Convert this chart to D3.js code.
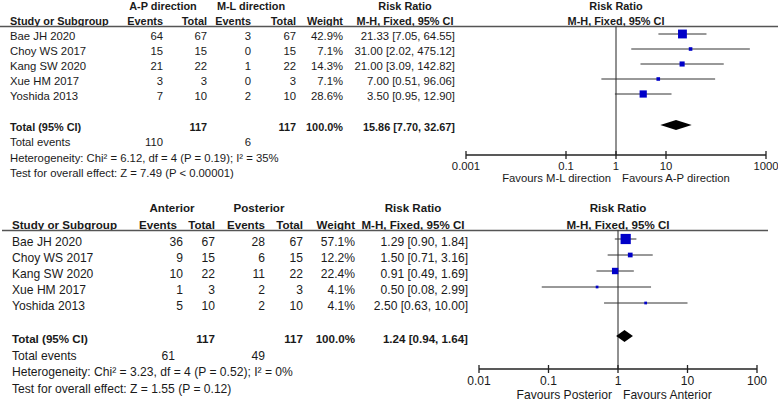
<!DOCTYPE html>
<html><head><meta charset="utf-8">
<script src="https://cdn.jsdelivr.net/npm/d3@7"></script>
<style>body{margin:0;background:#fff}svg{display:block}text{font-family:"Liberation Sans",Arial,sans-serif;fill:#1a1a1a}</style>
</head><body>
<script>
// ---------- data ----------
const studies = ["Bae JH 2020","Choy WS 2017","Kang SW 2020","Xue HM 2017","Yoshida 2013"];

// Panel 1: A-P direction vs M-L direction
const apEvents = [64,15,21,3,7];
const apTotal  = [67,15,22,3,10];
const mlEvents = [3,0,1,0,2];
const mlTotal  = [67,15,22,3,10];
const weight1  = [42.9,7.1,14.3,7.1,28.6];
const rr1      = [21.33,31.00,21.00,7.00,3.50];
const lo1      = [7.05,2.02,3.09,0.51,0.95];
const hi1      = [64.55,475.12,142.82,96.06,12.90];
const total1   = {n1:117, n2:117, w:"100.0%", rr:15.86, lo:7.70, hi:32.67, e1:110, e2:6};
const het1     = "Heterogeneity: Chi\u00B2 = 6.12, df = 4 (P = 0.19); I\u00B2 = 35%";
const test1    = "Test for overall effect: Z = 7.49 (P < 0.00001)";
const ticks1   = [0.001,0.1,1,10,1000];
const groups1  = ["A-P direction","M-L direction"];
const favours1 = ["Favours M-L direction","Favours A-P direction"];

// Panel 2: Anterior vs Posterior
const antEvents  = [36,9,10,1,5];
const antTotal   = [67,15,22,3,10];
const postEvents = [28,6,11,2,2];
const postTotal  = [67,15,22,3,10];
const weight2    = [57.1,12.2,22.4,4.1,4.1];
const rr2        = [1.29,1.50,0.91,0.50,2.50];
const lo2        = [0.90,0.71,0.49,0.08,0.63];
const hi2        = [1.84,3.16,1.69,2.99,10.00];
const total2     = {n1:117, n2:117, w:"100.0%", rr:1.24, lo:0.94, hi:1.64, e1:61, e2:49};
const het2       = "Heterogeneity: Chi\u00B2 = 3.23, df = 4 (P = 0.52); I\u00B2 = 0%";
const test2      = "Test for overall effect: Z = 1.55 (P = 0.12)";
const ticks2     = [0.01,0.1,1,10,100];
const groups2    = ["Anterior","Posterior"];
const favours2   = ["Favours Posterior","Favours Anterior"];

// ---------- drawing ----------
const svg = d3.select("body").append("svg").attr("width",778).attr("height",402);
const f2 = v => v.toFixed(2);

function panel(d, p) {
  const g = svg.append("g");
  const txt = (x, y, s, anchor, bold) => g.append("text")
    .attr("x", x).attr("y", y).attr("text-anchor", anchor || "start")
    .attr("dominant-baseline", "central")
    .style("font-size", (bold ? p.fb : p.fs) + "px")
    .style("font-weight", bold ? "bold" : "normal")
    .text(s);

  const rowY = i => p.row0 + i * p.step;
  const x = d3.scaleLog().domain(d.ticks.length ? [d.ticks[0], d.ticks[d.ticks.length-1]] : [0.01,100]).range(p.range);
  const sq = d3.scaleSqrt().domain([0,100]).range([0,13.5]);

  // headers
  txt(p.g1x, p.h1, d.groups[0], "middle", true);
  txt(p.g2x, p.h1, d.groups[1], "middle", true);
  txt(p.rrx, p.h1, "Risk Ratio", "middle", true);
  txt(p.fx, p.h1, "Risk Ratio", "middle", true);
  txt(p.c0, p.h2, "Study or Subgroup", "start", true);
  txt(p.hc1, p.h2, "Events", "end", true);
  txt(p.c2, p.h2, "Total", "end", true);
  txt(p.c3, p.h2, "Events", "end", true);
  txt(p.c4, p.h2, "Total", "end", true);
  txt(p.c5, p.h2, "Weight", "end", true);
  txt(p.rrx, p.h2, "M-H, Fixed, 95% CI", "middle", true);
  txt(p.fx, p.h2, "M-H, Fixed, 95% CI", "middle", true);
  g.append("line").attr("x1", p.lx[0]).attr("x2", p.lx[1]).attr("y1", p.uy).attr("y2", p.uy)
    .attr("stroke", "#555").attr("stroke-width", 1.6);

  // study rows
  studies.forEach((s, i) => {
    const ty = rowY(i) + p.toff;
    txt(p.c0, ty, s);
    txt(p.c1, ty, d.e1[i], "end");
    txt(p.c2, ty, d.t1[i], "end");
    txt(p.c3, ty, d.e2[i], "end");
    txt(p.c4, ty, d.t2[i], "end");
    txt(p.c5, ty, d.w[i].toFixed(1) + "%", "end");
    txt(p.c6, ty, `${f2(d.rr[i])} [${f2(d.lo[i])}, ${f2(d.hi[i])}]`, "end");
  });

  // total rows
  const tty = p.totY + p.toff;
  txt(p.c0, tty, "Total (95% CI)", "start", true);
  txt(p.c2, tty, d.tot.n1, "end", true);
  txt(p.c4, tty, d.tot.n2, "end", true);
  txt(p.c5, tty, d.tot.w, "end", true);
  txt(p.c6, tty, `${f2(d.tot.rr)} [${f2(d.tot.lo)}, ${f2(d.tot.hi)}]`, "end", true);
  txt(p.c0, p.evY, "Total events");
  txt(p.te1, p.evY, d.tot.e1, "end");
  txt(p.c3, p.evY, d.tot.e2, "end");
  txt(p.c0, p.hetY, d.het);
  txt(p.c0, p.testY, d.test);

  // reference line at 1
  g.append("line").attr("x1", x(1)).attr("x2", x(1)).attr("y1", p.uy).attr("y2", p.axY)
    .attr("stroke", "#222").attr("stroke-width", 1);

  // CI lines and squares
  studies.forEach((s, i) => {
    const y = rowY(i);
    g.append("line").attr("x1", x(d.lo[i])).attr("x2", x(d.hi[i])).attr("y1", y).attr("y2", y)
      .attr("stroke", "#333").attr("stroke-width", 1);
    const w = sq(d.w[i]);
    g.append("rect").attr("x", x(d.rr[i]) - w/2).attr("y", y - w/2).attr("width", w).attr("height", w)
      .attr("fill", "#0000c8");
  });

  // diamond
  const dy = p.totY, hh = p.dh / 2;
  g.append("path")
    .attr("d", `M${x(d.tot.lo)},${dy}L${x(d.tot.rr)},${dy-hh}L${x(d.tot.hi)},${dy}L${x(d.tot.rr)},${dy+hh}Z`)
    .attr("fill", "#000");

  // axis
  const ax = g.append("g").attr("transform", `translate(0,${p.axY})`);
  ax.append("line").attr("x1", x.range()[0]).attr("x2", x.range()[1]).attr("stroke", "#222").attr("stroke-width", 1.3);
  d.ticks.forEach(t => {
    ax.append("line").attr("x1", x(t)).attr("x2", x(t)).attr("y1", -4).attr("y2", 4).attr("stroke", "#222").attr("stroke-width", 1.3);
  });
  d.ticks.forEach(t => {
    const lbl = String(t);
    g.append("text").attr("x", x(t)).attr("y", p.tlY).attr("text-anchor", "middle")
      .attr("dominant-baseline", "central").style("font-size", p.fs + "px").text(lbl);
  });
  txt(x(1) - p.fgap, p.favY, d.fav[0], "end");
  txt(x(1) + p.fgap2, p.favY, d.fav[1], "start");
}

panel(
  {e1: apEvents, t1: apTotal, e2: mlEvents, t2: mlTotal, w: weight1, rr: rr1, lo: lo1, hi: hi1,
   tot: total1, het: het1, test: test1, ticks: ticks1, groups: groups1, fav: favours1},
  {fs: 11.3, fb: 10.9, h1: 6, h2: 21, uy: 26.5, lx: [0, 778],
   row0: 34, step: 15, toff: 2, totY: 125, evY: 142, hetY: 158, testY: 173,
   c0: 10, c1: 163, hc1: 163, c2: 207, c3: 251, c4: 296, c5: 343, c6: 455, te1: 163,
   g1x: 163, g2x: 251, rrx: 405, fx: 616,
   range: [466, 766], axY: 155, tlY: 166, favY: 178, fgap: 5, fgap2: 6, dh: 10}
);

panel(
  {e1: antEvents, t1: antTotal, e2: postEvents, t2: postTotal, w: weight2, rr: rr2, lo: lo2, hi: hi2,
   tot: total2, het: het2, test: test2, ticks: ticks2, groups: groups2, fav: favours2},
  {fs: 12.1, fb: 11.6, h1: 207, h2: 224, uy: 230.5, lx: [2, 768],
   row0: 239, step: 16, toff: 2.5, totY: 336, evY: 356, hetY: 372, testY: 389,
   c0: 12, c1: 183, hc1: 177, c2: 215, c3: 265, c4: 303, c5: 355, c6: 468, te1: 175,
   g1x: 172, g2x: 259, rrx: 413, fx: 618,
   range: [479, 757], axY: 369, tlY: 381, favY: 395, fgap: 6, fgap2: 5, dh: 12}
);
</script>
</body></html>
